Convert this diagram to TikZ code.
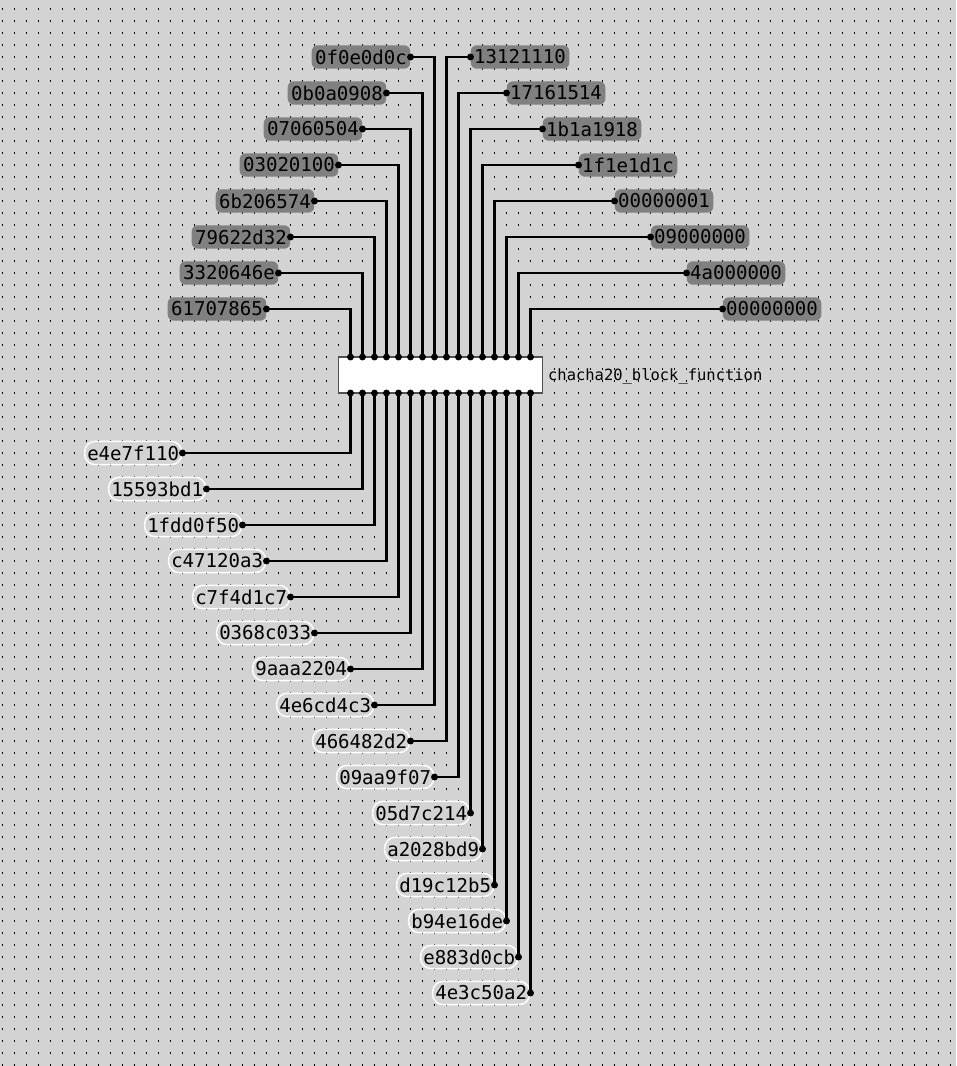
\documentclass[tikz,border=0pt]{standalone}
\usepackage{fontspec}
\newfontfamily\monofont{DejaVu Sans Mono}
\definecolor{bggray}{HTML}{D3D3D3}
\definecolor{ingray}{HTML}{808080}
\definecolor{chipedge}{HTML}{505050}
\begin{document}
\begin{tikzpicture}[x=9pt,y=-9pt,
  inlab/.style={fill=ingray, rounded corners=4.5pt, inner xsep=2.5pt, inner ysep=0pt,
    minimum height=17.5pt, text=black, font=\monofont\fontsize{14.3}{16}\selectfont},
  outlab/.style={fill=bggray, draw=white, line width=1.1pt, rounded corners=8pt,
    inner xsep=2pt, inner ysep=0pt, minimum height=17.5pt, text=black,
    font=\monofont\fontsize{14.3}{16}\selectfont},
  wire/.style={line width=1.8pt, black},
  pindot/.style={circle, fill=black, inner sep=0pt, minimum size=5.2pt},
  chipbox/.style={draw=chipedge, fill=white, line width=1.1pt, inner sep=0pt,
    minimum width=153pt, minimum height=27pt},
  chiptext/.style={inner sep=0pt, text=black, font=\monofont\fontsize{11.6}{14}\selectfont}
]
\useasboundingbox (-0.2083,-0.75) rectangle (79.4583,88.0833);
\fill[bggray] (-0.2083,-0.75) rectangle (79.4583,88.0833);
\foreach \i in {0,...,79} {
  \foreach \j in {0,...,88} {
    \fill[black] (\i-0.05,\j-0.05) rectangle ++(0.11,0.11);
  }
}
% chip
\node[chipbox] (chip) at (36.5,30.5) {};
\node[chiptext, anchor=west] (chiplabel) at (45.45,30.6) {chacha20\_block\_function};
\foreach \p in {29,...,44} {
  \coordinate (t\p) at (\p,29);
  \coordinate (b\p) at (\p,32);
}
% top-left inputs
\foreach \txt/\v/\u/\p [count=\k] in {61707865/25/22/29, 3320646e/22/23/30, 79622d32/19/24/31,
   6b206574/16/26/32, 03020100/13/28/33, 07060504/10/30/34, 0b0a0908/7/32/35, 0f0e0d0c/4/34/36} {
  \node[inlab, anchor=east] (tl\k) at (\u,\v) {\txt};
  \draw[wire] (tl\k.east) -| (t\p);
  \node[pindot] at (tl\k.east) {};
}
% top-right inputs
\foreach \txt/\v/\u/\p [count=\k] in {13121110/4/39/37, 17161514/7/42/38, 1b1a1918/10/45/39,
   1f1e1d1c/13/48/40, 00000001/16/51/41, 09000000/19/54/42, 4a000000/22/57/43, 00000000/25/60/44} {
  \node[inlab, anchor=west] (tr\k) at (\u,\v) {\txt};
  \draw[wire] (tr\k.west) -| (t\p);
  \node[pindot] at (tr\k.west) {};
}
% outputs
\foreach \txt/\v/\u/\p [count=\k] in {e4e7f110/37/15/29, 15593bd1/40/17/30, 1fdd0f50/43/20/31,
   c47120a3/46/22/32, c7f4d1c7/49/24/33, 0368c033/52/26/34, 9aaa2204/55/29/35,
   4e6cd4c3/58/31/36, 466482d2/61/34/37, 09aa9f07/64/36/38, 05d7c214/67/39/39,
   a2028bd9/70/40/40, d19c12b5/73/41/41, b94e16de/76/42/42, e883d0cb/79/43/43, 4e3c50a2/82/44/44} {
  \node[outlab, anchor=east] (out\k) at (\u,\v) {\txt};
  \draw[wire] (b\p) |- (out\k.east);
  \node[pindot] at (out\k.east) {};
}
% pin dots
\foreach \p in {29,...,44} {
  \node[pindot] at (t\p) {};
  \node[pindot] at (b\p) {};
}
\end{tikzpicture}
\end{document}
